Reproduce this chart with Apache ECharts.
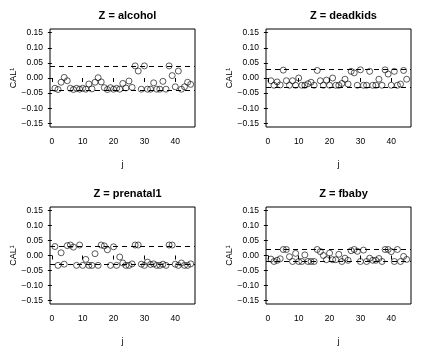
<!DOCTYPE html>
<html>
<head>
<meta charset="utf-8">
<script src="https://cdn.jsdelivr.net/npm/echarts@6/dist/echarts.min.js"></script>
<style>
  html, body { margin: 0; padding: 0; background: #fff; }
  #main { width: 432px; height: 355px; }
</style>
</head>
<body>
<div id="main"></div>
<script>
// index j on the x axis
const jIdx = [1, 2, 3, 4, 5, 6, 7, 8, 9, 10, 11, 12, 13, 14, 15, 16, 17, 18, 19, 20,
  21, 22, 23, 24, 25, 26, 27, 28, 29, 30, 31, 32, 33, 34, 35, 36, 37, 38, 39, 40,
  41, 42, 43, 44, 45];

const panelNames = ['alcohol', 'deadkids', 'prenatal1', 'fbaby'];

const alcohol = [-0.034, -0.038, -0.014, 0.002, -0.009, -0.034, -0.038, -0.034, -0.037, -0.034,
  -0.037, -0.020, -0.036, -0.014, 0.001, -0.013, -0.032, -0.038, -0.032, -0.037,
  -0.034, -0.037, -0.018, -0.033, -0.010, -0.031, 0.040, 0.023, -0.037, 0.040,
  -0.037, -0.037, -0.016, -0.037, -0.037, -0.011, -0.037, 0.040, 0.008, -0.029,
  0.023, -0.037, -0.029, -0.014, -0.021];

const deadkids = [-0.009, -0.024, -0.013, -0.023, 0.026, -0.009, -0.024, -0.009, -0.024, 0.000,
  -0.024, -0.024, -0.019, -0.014, -0.024, 0.025, -0.009, -0.024, -0.007, -0.024,
  0.000, -0.024, -0.024, -0.018, -0.004, -0.020, 0.022, 0.017, -0.024, 0.027,
  -0.024, -0.024, 0.022, -0.024, -0.024, -0.004, -0.024, 0.027, 0.013, -0.024,
  0.022, -0.024, -0.020, 0.025, -0.004];

const prenatal1 = [0.030, -0.033, 0.009, -0.029, 0.033, 0.035, 0.028, -0.033, 0.035, -0.033,
  -0.013, -0.033, -0.033, 0.006, -0.033, 0.035, 0.032, 0.019, -0.033, 0.029,
  -0.033, -0.005, -0.025, -0.033, -0.033, -0.028, 0.035, 0.035, -0.029, -0.033,
  -0.022, -0.030, -0.028, -0.033, -0.033, -0.029, -0.033, 0.035, 0.035, -0.029,
  -0.033, -0.025, -0.033, -0.033, -0.028];

const fbaby = [-0.012, -0.020, -0.016, -0.011, 0.020, 0.020, -0.004, -0.020, 0.007, -0.020,
  -0.020, 0.002, -0.020, -0.020, -0.020, 0.020, 0.013, 0.000, -0.014, 0.008,
  -0.014, -0.014, 0.004, -0.020, -0.009, -0.016, 0.016, 0.020, 0.014, -0.020,
  0.018, -0.020, -0.009, -0.016, -0.016, -0.010, -0.020, 0.020, 0.020, 0.013,
  -0.020, 0.020, -0.020, -0.003, -0.013];

// dashed reference lines at +/- bound
const bounds = [0.038, 0.026, 0.034, 0.020];

const yTicks = [-0.15, -0.10, -0.05, 0.00, 0.05, 0.10, 0.15];
const xTicks = [0, 10, 20, 30, 40];

const panelValues = [alcohol, deadkids, prenatal1, fbaby];

const chart = echarts.init(document.getElementById('main'));

const fontFam = '"Liberation Sans", Arial, sans-serif';
const grids = [
  { left: 50, top: 29, width: 145, height: 98 },
  { left: 266, top: 29, width: 145, height: 98 },
  { left: 50, top: 207, width: 145, height: 97 },
  { left: 266, top: 207, width: 145, height: 97 }
];

const option = {
  animation: false,
  backgroundColor: '#fff',
  title: panelNames.map((nm, i) => ({
    text: 'Z = ' + nm,
    left: grids[i].left + grids[i].width / 2,
    top: grids[i].top - 24,
    textAlign: 'center',
    textStyle: { fontFamily: fontFam, fontSize: 11, fontWeight: 'bold', color: '#000' }
  })),
  grid: grids.map(g => Object.assign({ show: true, borderColor: '#000', borderWidth: 1, backgroundColor: 'transparent' }, g)),
  xAxis: grids.map((g, i) => ({
    gridIndex: i,
    type: 'value',
    min: -0.6,
    max: 46.4,
    name: 'j',
    nameLocation: 'middle',
    nameGap: 33,
    nameTextStyle: { fontFamily: fontFam, fontSize: 9, color: '#000' },
    splitLine: { show: false },
    axisLine: { show: false },
    axisTick: { show: true, length: 4, customValues: xTicks, lineStyle: { color: '#000' } },
    axisLabel: {
      customValues: xTicks, margin: 10,
      fontFamily: fontFam, fontSize: 8.5, color: '#000'
    }
  })),
  yAxis: grids.map((g, i) => ({
    gridIndex: i,
    type: 'value',
    min: -0.162,
    max: 0.162,
    name: 'CAL\u00b9',
    nameLocation: 'middle',
    nameGap: 31,
    nameRotate: 90,
    nameTextStyle: { fontFamily: fontFam, fontSize: 9, color: '#000' },
    splitLine: { show: false },
    axisLine: { show: false },
    axisTick: { show: true, length: 4, customValues: yTicks, lineStyle: { color: '#000' } },
    axisLabel: {
      customValues: yTicks, margin: 7,
      fontFamily: fontFam, fontSize: 8.5, color: '#000',
      formatter: v => (v < 0 ? '\u2212' : '') + Math.abs(v).toFixed(2)
    }
  })),
  series: panelValues.map((vals, i) => ({
    type: 'scatter',
    xAxisIndex: i,
    yAxisIndex: i,
    data: jIdx.map((j, k) => [j, vals[k]]),
    symbol: 'circle',
    symbolSize: 6,
    itemStyle: { color: 'rgba(0,0,0,0)', borderColor: '#000', borderWidth: 0.8 },
    emphasis: { disabled: true },
    markLine: {
      silent: true,
      symbol: 'none',
      label: { show: false },
      lineStyle: { color: '#000', type: [5, 4], width: 1 },
      data: [{ yAxis: bounds[i] }, { yAxis: -bounds[i] }]
    }
  }))
};

chart.setOption(option);
</script>
</body>
</html>
